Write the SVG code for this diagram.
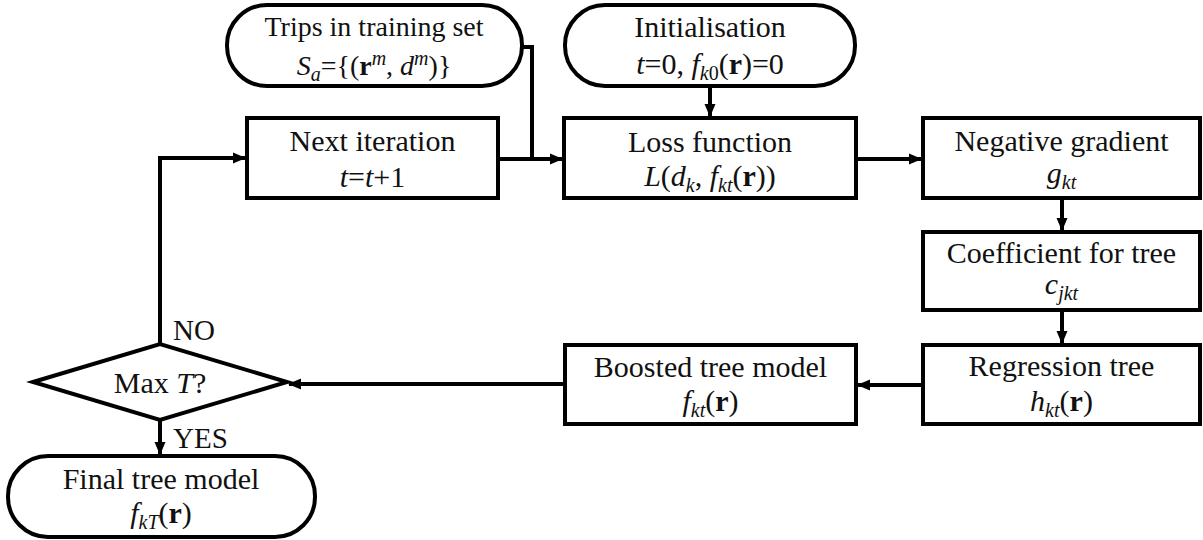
<svg xmlns="http://www.w3.org/2000/svg" width="1203" height="540" viewBox="0 0 1203 540">
<style>
.box{fill:#fff;stroke:#000;stroke-width:4}
.t{font-size:30px;fill:#111;text-anchor:middle}
.ts{font-size:28px}
.i{font-style:italic}
.b{font-weight:bold}
.sub{font-size:20px;font-style:italic}
.lbl{font-size:29px;fill:#111}
.c{fill:none;stroke:#000;stroke-width:4}
</style>
<defs>
<marker id="ah" markerUnits="userSpaceOnUse" markerWidth="14" markerHeight="14" refX="12" refY="7" orient="auto">
<path d="M0,1.5 L13,7 L0,12.5 Z" fill="#000"/>
</marker>
</defs>
<rect width="1203" height="540" fill="#fff"/>
<g id="connectors">
<path class="c" d="M522,47 H532 V159"/>
<path class="c" d="M498,159 H562" marker-end="url(#ah)"/>
<path class="c" d="M710,86 V116" marker-end="url(#ah)"/>
<path class="c" d="M856,159 H921" marker-end="url(#ah)"/>
<path class="c" d="M1062,198 V230" marker-end="url(#ah)"/>
<path class="c" d="M1062,310 V343" marker-end="url(#ah)"/>
<path class="c" d="M923,385 H858" marker-end="url(#ah)"/>
<path class="c" d="M565,384 H289" marker-end="url(#ah)"/>
<path class="c" d="M160,420 V454" marker-end="url(#ah)"/>
<path class="c" d="M160,344 V158 H245" marker-end="url(#ah)"/>
</g>
<g font-family="Liberation Serif, Tinos, DejaVu Serif, serif">
<g id="trips">
<rect class="box" x="227" y="5" width="295" height="81" rx="40" ry="40"/>
<text class="t ts" x="374" y="36">Trips in training set</text>
<text class="t ts" x="374" y="75"><tspan class="i">S</tspan><tspan class="sub" dy="6">a</tspan><tspan dy="-6">={(</tspan><tspan class="b">r</tspan><tspan class="sub" dy="-10">m</tspan><tspan dy="10">, </tspan><tspan class="i">d</tspan><tspan class="sub" dy="-10">m</tspan><tspan dy="10">)}</tspan></text>
</g>
<g id="init">
<rect class="box" x="565" y="5" width="290" height="81" rx="40" ry="40"/>
<text class="t" x="710" y="37">Initialisation</text>
<text class="t" x="710" y="74"><tspan class="i">t</tspan>=0, <tspan class="i">f</tspan><tspan class="sub" dy="6">k</tspan><tspan font-size="20">0</tspan><tspan dy="-6">(</tspan><tspan class="b">r</tspan>)=0</text>
</g>
<g id="next">
<rect class="box" x="247" y="118" width="251" height="80"/>
<text class="t" x="372.5" y="151">Next iteration</text>
<text class="t" x="372.5" y="187"><tspan class="i">t</tspan>=<tspan class="i">t</tspan>+1</text>
</g>
<g id="loss">
<rect class="box" x="564" y="118" width="292" height="80"/>
<text class="t" x="710" y="152">Loss function</text>
<text class="t" x="710" y="186"><tspan class="i">L</tspan>(<tspan class="i">d</tspan><tspan class="sub" dy="6">k</tspan><tspan dy="-6">, </tspan><tspan class="i">f</tspan><tspan class="sub" dy="6">kt</tspan><tspan dy="-6">(</tspan><tspan class="b">r</tspan>))</text>
</g>
<g id="neggrad">
<rect class="box" x="923" y="118" width="277" height="80"/>
<text class="t" x="1061.5" y="151">Negative gradient</text>
<text class="t" x="1061.5" y="183"><tspan class="i">g</tspan><tspan class="sub" dy="6">kt</tspan></text>
</g>
<g id="coeff">
<rect class="box" x="923" y="232" width="277" height="78"/>
<text class="t" x="1061.5" y="263">Coefficient for tree</text>
<text class="t" x="1061.5" y="294"><tspan class="i">c</tspan><tspan class="sub" dy="6">jkt</tspan></text>
</g>
<g id="regression">
<rect class="box" x="923" y="345" width="277" height="79"/>
<text class="t" x="1061.5" y="376">Regression tree</text>
<text class="t" x="1061.5" y="411"><tspan class="i">h</tspan><tspan class="sub" dy="6">kt</tspan><tspan dy="-6">(</tspan><tspan class="b">r</tspan>)</text>
</g>
<g id="boosted">
<rect class="box" x="565" y="345" width="291" height="79"/>
<text class="t" x="710.5" y="377">Boosted tree model</text>
<text class="t" x="710.5" y="411"><tspan class="i">f</tspan><tspan class="sub" dy="6">kt</tspan><tspan dy="-6">(</tspan><tspan class="b">r</tspan>)</text>
</g>
<g id="decision">
<polygon class="box" points="33,382 160,344 287,382 160,420"/>
<text class="t" x="160" y="393">Max <tspan class="i">T</tspan>?</text>
</g>
<g id="labels">
<text class="lbl" x="173" y="340">NO</text>
<text class="lbl" x="173" y="448">YES</text>
</g>
<g id="final">
<rect class="box" x="8" y="456" width="307" height="81" rx="40" ry="40"/>
<text class="t" x="161" y="489">Final tree model</text>
<text class="t" x="161" y="523"><tspan class="i">f</tspan><tspan class="sub" dy="6">kT</tspan><tspan dy="-6">(</tspan><tspan class="b">r</tspan>)</text>
</g>
</g>
</svg>
